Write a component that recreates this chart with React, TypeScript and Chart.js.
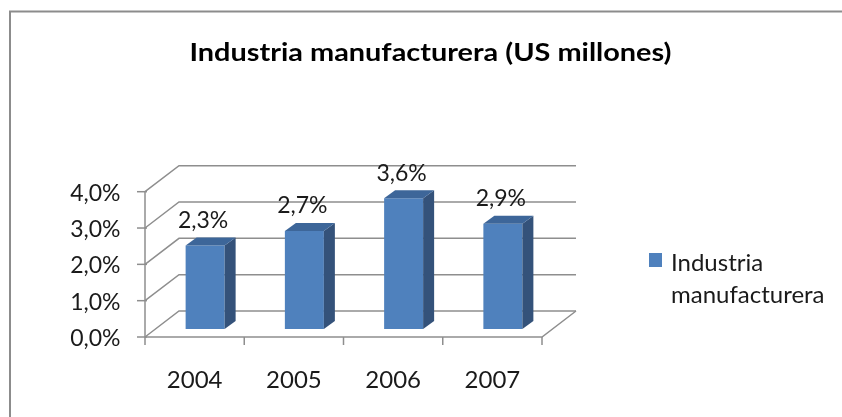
import React, { useEffect, useRef } from "react";
import { Chart, registerables } from "chart.js";

Chart.register(...registerables);

const categories = ["2004", "2005", "2006", "2007"];
const seriesName = "Industria manufacturera";
const legendLines = ["Industria", "manufacturera"];
const values = [2.3, 2.7, 3.6, 2.9];
const yTicks = [0, 1, 2, 3, 4];
const titleText = "Industria manufacturera (US millones)";

const FONT = "Lato, 'Open Sans', sans-serif";
const FRONT = { x: -10.5, y: 8 }; // front axis plane relative to bar front plane
const BAR_DEPTH = { x: 11, y: -8 };
const BACK = { x: 23.5, y: -18 }; // back wall relative to bar front plane
const GRID = "#8E8E8E";

const fmt = (v: number) => v.toFixed(1).replace(".", ",") + "%";

const threeD = {
  id: "threeD",
  beforeDatasetsDraw(chart: any) {
    const { ctx } = chart;
    const xs = chart.scales.x;
    const ys = chart.scales.y;
    const fl = xs.left + FRONT.x;
    const fr = xs.right + FRONT.x;
    ctx.save();
    ctx.strokeStyle = GRID;
    ctx.lineWidth = 1.5;
    yTicks.forEach((t) => {
      const fy = ys.getPixelForValue(t) + FRONT.y;
      const by = ys.getPixelForValue(t) + BACK.y;
      const bl = xs.left + BACK.x;
      const br = xs.right + BACK.x;
      ctx.beginPath();
      ctx.moveTo(fl, fy);
      ctx.lineTo(bl, by);
      ctx.lineTo(br, by);
      ctx.stroke();
      ctx.beginPath();
      ctx.moveTo(fl - 8, fy);
      ctx.lineTo(fl + 2, fy);
      ctx.stroke();
    });
    const f0 = ys.getPixelForValue(0) + FRONT.y;
    const f4 = ys.getPixelForValue(4) + FRONT.y;
    const b0 = ys.getPixelForValue(0) + BACK.y;
    ctx.beginPath();
    ctx.moveTo(fl, f0);
    ctx.lineTo(fr, f0);
    ctx.lineTo(xs.right + BACK.x, b0);
    ctx.stroke();
    ctx.beginPath();
    ctx.moveTo(fl, f4);
    ctx.lineTo(fl, f0);
    ctx.stroke();
    const n = categories.length;
    for (let i = 0; i <= n; i++) {
      const x = fl + ((fr - fl) * i) / n;
      ctx.beginPath();
      ctx.moveTo(x, f0);
      ctx.lineTo(x, f0 + 8);
      ctx.stroke();
    }
    ctx.restore();
  },
  afterDatasetsDraw(chart: any) {
    const { ctx } = chart;
    const meta = chart.getDatasetMeta(0);
    ctx.save();
    meta.data.forEach((bar: any, i: number) => {
      const { x, y, base, width } = bar.getProps(["x", "y", "base", "width"], true);
      const l = x - width / 2;
      const r = x + width / 2;
      ctx.fillStyle = "#34527A";
      ctx.beginPath();
      ctx.moveTo(r, y);
      ctx.lineTo(r + BAR_DEPTH.x, y + BAR_DEPTH.y);
      ctx.lineTo(r + BAR_DEPTH.x, base + BAR_DEPTH.y);
      ctx.lineTo(r, base);
      ctx.closePath();
      ctx.fill();
      ctx.fillStyle = "#3D6699";
      ctx.beginPath();
      ctx.moveTo(l, y);
      ctx.lineTo(l + BAR_DEPTH.x, y + BAR_DEPTH.y);
      ctx.lineTo(r + BAR_DEPTH.x, y + BAR_DEPTH.y);
      ctx.lineTo(r, y);
      ctx.closePath();
      ctx.fill();
      ctx.fillStyle = "#1a1a1a";
      ctx.font = `23px ${FONT}`;
      ctx.textAlign = "center";
      ctx.textBaseline = "middle";
      ctx.fillText(fmt(values[i]), x - 2, y - 25);
    });
    ctx.restore();
  },
  afterDraw(chart: any) {
    const { ctx } = chart;
    ctx.save();
    ctx.strokeStyle = "#8C8C8C";
    ctx.lineWidth = 2;
    ctx.strokeRect(10, 11.5, 900, 500);
    // title, stretched horizontally to the reference width
    ctx.fillStyle = "#000";
    ctx.font = `bold 25px ${FONT}`;
    ctx.textAlign = "center";
    ctx.textBaseline = "alphabetic";
    const w = ctx.measureText(titleText).width || 482;
    const sx = 482 / w;
    ctx.save();
    ctx.translate(430.5, 61);
    ctx.scale(sx, 1);
    ctx.fillText(titleText, 0, 0);
    ctx.restore();
    // legend
    ctx.fillStyle = "#4F81BD";
    ctx.fillRect(649, 253, 13, 14);
    ctx.fillStyle = "#1a1a1a";
    ctx.font = `24px ${FONT}`;
    ctx.textAlign = "left";
    ctx.fillText(legendLines[0], 671, 271);
    ctx.fillText(legendLines[1], 671, 303);
    ctx.restore();
  },
};

export default function App() {
  const ref = useRef<HTMLCanvasElement | null>(null);
  useEffect(() => {
    if (!ref.current) return;
    const chart = new Chart(ref.current, {
      type: "bar",
      data: {
        labels: categories,
        datasets: [
          {
            label: seriesName,
            data: values,
            backgroundColor: "#4F81BD",
            borderWidth: 0,
            barPercentage: 0.393,
            categoryPercentage: 1,
          },
        ],
      },
      options: {
        animation: false,
        responsive: false,
        layout: { padding: { top: 183.7, right: 289.5, left: 0, bottom: 0 } },
        plugins: {
          legend: { display: false },
          title: { display: false },
          tooltip: { enabled: false },
        },
        scales: {
          x: {
            grid: { display: false, drawTicks: false },
            border: { display: false },
            ticks: {
              padding: 37,
              labelOffset: -10.5,
              color: "#1a1a1a",
              font: { family: FONT, size: 24 },
              maxRotation: 0,
            },
            afterFit: (s: any) => {
              s.height = 88;
            },
          },
          y: {
            min: 0,
            max: 4,
            grid: { display: false, drawTicks: false },
            border: { display: false },
            ticks: {
              stepSize: 1,
              padding: 35,
              labelOffset: 9.5,
              color: "#1a1a1a",
              font: { family: FONT, size: 23 },
              callback: (v: any) => fmt(Number(v)),
            },
            afterFit: (s: any) => {
              s.width = 155.5;
            },
          },
        },
      },
      plugins: [threeD],
    });
    return () => chart.destroy();
  }, []);
  return (
    <div style={{ position: "absolute", left: 0, top: 0, width: 842, height: 417, background: "#fff" }}>
      <canvas ref={ref} width={842} height={417} />
    </div>
  );
}
